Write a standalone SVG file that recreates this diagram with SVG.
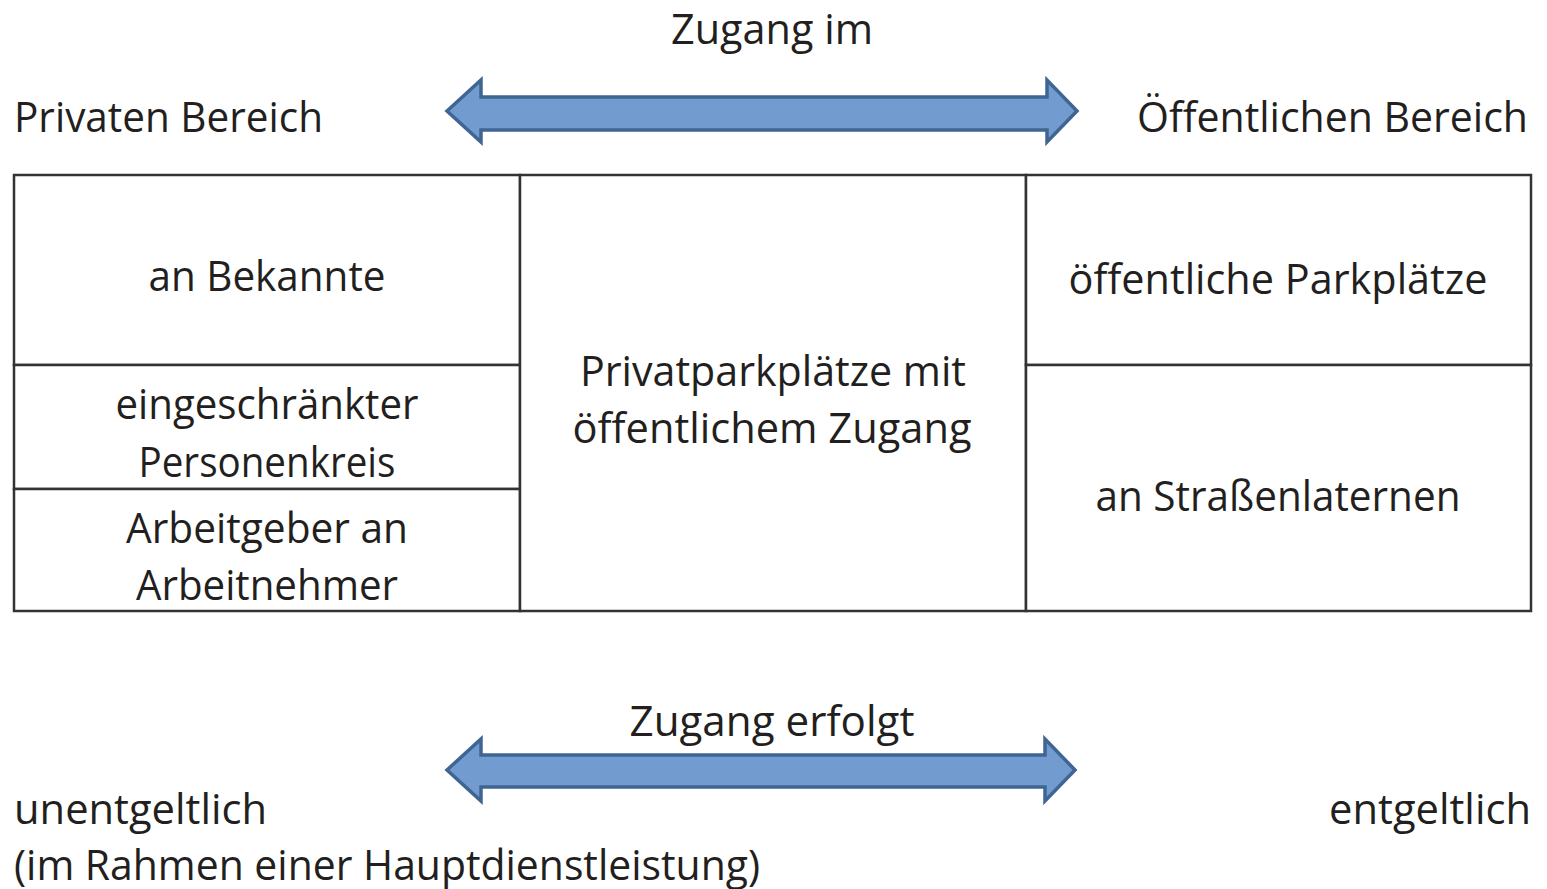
<svg xmlns="http://www.w3.org/2000/svg" width="1547" height="889" viewBox="0 0 1547 889">
<style>
.t{font-family:"Open Sans","Liberation Sans",sans-serif;font-size:42px;fill:#231f20}
.m{text-anchor:middle}
.cell{fill:#fff;stroke:#333;stroke-width:2.5}
.arr{fill:#729bcf;stroke:#3f6592;stroke-width:3.5;stroke-linejoin:miter}
</style>
<rect width="1547" height="889" fill="#fff"/>
<g id="connectors">
<path class="arr" d="M447,111 L481,80 L481,97 L1047,97 L1047,80 L1077,111 L1047,142 L1047,130 L481,130 L481,142 Z"/>
<path class="arr" d="M447,770 L481,739 L481,755 L1045,755 L1045,739 L1075,770 L1045,801 L1045,787 L481,787 L481,801 Z"/>
</g>
<g id="labels">
<text class="t m" x="772" y="44" textLength="202" lengthAdjust="spacingAndGlyphs">Zugang im</text>
<text class="t" x="14" y="132" textLength="309" lengthAdjust="spacingAndGlyphs">Privaten Bereich</text>
<text class="t" x="1137" y="132" textLength="391" lengthAdjust="spacingAndGlyphs">Öffentlichen Bereich</text>
<text class="t m" x="772" y="736" textLength="285" lengthAdjust="spacingAndGlyphs">Zugang erfolgt</text>
<text class="t" x="14" y="824" textLength="253" lengthAdjust="spacingAndGlyphs">unentgeltlich</text>
<text class="t" x="14" y="880" textLength="746" lengthAdjust="spacingAndGlyphs">(im Rahmen einer Hauptdienstleistung)</text>
<text class="t" x="1329" y="824" textLength="202" lengthAdjust="spacingAndGlyphs">entgeltlich</text>
</g>
<g id="node-bekannte">
<rect class="cell" x="14" y="175" width="506" height="190"/>
<text class="t m" x="267" y="291" textLength="237" lengthAdjust="spacingAndGlyphs">an Bekannte</text>
</g>
<g id="node-personenkreis">
<rect class="cell" x="14" y="365" width="506" height="124"/>
<text class="t m" x="267" y="419" textLength="303" lengthAdjust="spacingAndGlyphs">eingeschränkter</text>
<text class="t m" x="267" y="477" textLength="257" lengthAdjust="spacingAndGlyphs">Personenkreis</text>
</g>
<g id="node-arbeitgeber">
<rect class="cell" x="14" y="489" width="506" height="122"/>
<text class="t m" x="267" y="543" textLength="282" lengthAdjust="spacingAndGlyphs">Arbeitgeber an</text>
<text class="t m" x="267" y="600" textLength="262" lengthAdjust="spacingAndGlyphs">Arbeitnehmer</text>
</g>
<g id="node-privatparkplaetze">
<rect class="cell" x="520" y="175" width="506" height="436"/>
<text class="t m" x="773" y="386" textLength="386" lengthAdjust="spacingAndGlyphs">Privatparkplätze mit</text>
<text class="t m" x="772" y="443" textLength="399" lengthAdjust="spacingAndGlyphs">öffentlichem Zugang</text>
</g>
<g id="node-oeffentliche">
<rect class="cell" x="1026" y="175" width="505" height="190"/>
<text class="t m" x="1278" y="294" textLength="419" lengthAdjust="spacingAndGlyphs">öffentliche Parkplätze</text>
</g>
<g id="node-laternen">
<rect class="cell" x="1026" y="365" width="505" height="246"/>
<text class="t m" x="1278" y="511" textLength="365" lengthAdjust="spacingAndGlyphs">an Straßenlaternen</text>
</g>
</svg>
